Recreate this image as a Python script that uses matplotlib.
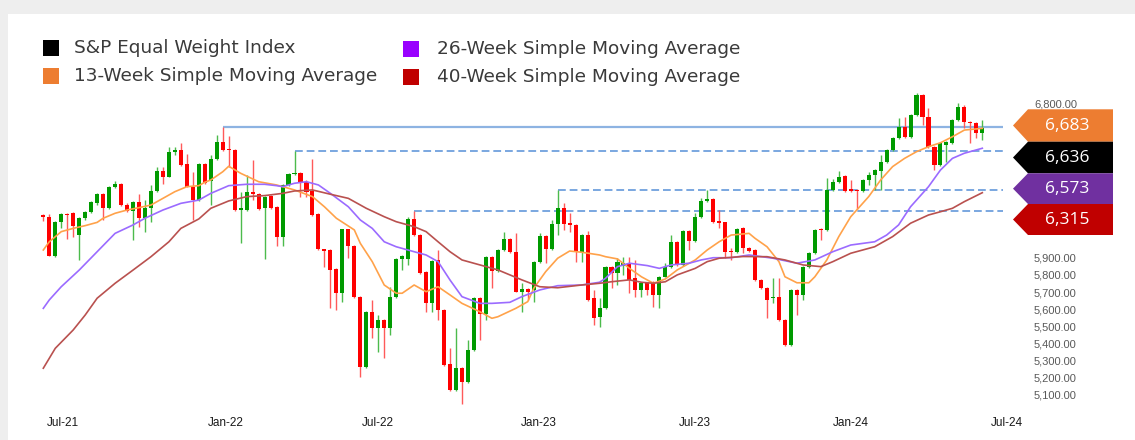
import matplotlib
matplotlib.use("Agg")
import matplotlib.pyplot as plt
from matplotlib.patches import Polygon, Rectangle
import numpy as np

# ---------------- data (weekly candles, week index 0..157) ----------------
opens = [6149, 6139, 5912, 6110, 6155, 6159, 6032, 6130, 6168, 6217,
         6271, 6188, 6314, 6328, 6207, 6172, 6223, 6130, 6188, 6289,
         6405, 6372, 6514, 6528, 6444, 6314, 6236, 6444, 6347, 6475,
         6576, 6534, 6528, 6178, 6178, 6285, 6271, 6188, 6260, 6194,
         6019, 6324, 6386, 6396, 6343, 6291, 6155, 5949, 5945, 5833,
         5693, 6066, 5968, 5673, 5265, 5585, 5492, 5537, 5492, 5673,
         5893, 5893, 6126, 6032, 5819, 5634, 5887, 5595, 5279, 5130,
         5259, 5174, 5362, 5664, 5570, 5906, 5823, 5945, 6009, 5935,
         5702, 5718, 5712, 5877, 6028, 5951, 6095, 6188, 6101, 6091,
         5935, 6032, 5664, 5556, 5605, 5848, 5809, 5854, 5868, 5784,
         5712, 5751, 5760, 5683, 5789, 5848, 5993, 5858, 6056, 5997,
         6139, 6231, 6242, 6114, 6106, 5939, 5935, 6073, 5957, 5945,
         5771, 5725, 5663, 5673, 5537, 5391, 5712, 5683, 5848, 5926,
         6066, 6062, 6295, 6343, 6378, 6300, 6295, 6289, 6353, 6382,
         6405, 6456, 6528, 6596, 6664, 6605, 6732, 6848, 6722, 6547,
         6440, 6557, 6567, 6703, 6780, 6693, 6683, 6625]
highs = [6153, 6153, 6115, 6159, 6160, 6168, 6135, 6175, 6228, 6279,
         6276, 6318, 6347, 6333, 6217, 6231, 6270, 6236, 6324, 6431,
         6431, 6547, 6547, 6567, 6503, 6401, 6450, 6450, 6499, 6615,
         6664, 6611, 6535, 6285, 6382, 6470, 6276, 6258, 6265, 6200,
         6330, 6392, 6520, 6400, 6353, 6474, 6160, 5952, 5950, 5838,
         6070, 6070, 5972, 5678, 5590, 5654, 5566, 5542, 5731, 5898,
         5916, 6139, 6175, 6037, 5824, 5886, 5945, 5600, 5372, 5489,
         5265, 5420, 5670, 5670, 5912, 5912, 5950, 6052, 6015, 6042,
         5751, 5722, 5882, 6042, 6032, 6120, 6292, 6217, 6159, 6096,
         6037, 6056, 5712, 5664, 5853, 5853, 5897, 5906, 5906, 5887,
         5760, 5760, 5765, 5795, 5868, 6032, 5998, 6062, 6062, 6159,
         6246, 6295, 6248, 6178, 6110, 5955, 6075, 6078, 5962, 5950,
         5776, 5730, 5782, 5780, 5542, 5718, 5718, 5853, 5931, 6067,
         6072, 6363, 6359, 6405, 6384, 6353, 6300, 6358, 6401, 6416,
         6499, 6535, 6605, 6713, 6722, 6738, 6860, 6855, 6771, 6553,
         6572, 6582, 6708, 6802, 6790, 6698, 6690, 6703]
lows = [6114, 5910, 5905, 6072, 6009, 6023, 5887, 6120, 6163, 6207,
        6120, 6183, 6306, 6203, 6167, 6003, 6081, 6052, 6110, 6285,
        6328, 6368, 6499, 6437, 6310, 6120, 6230, 6330, 6207, 6470,
        6524, 6431, 6170, 5984, 6172, 6236, 6176, 5891, 6185, 5968,
        5968, 6320, 6380, 6256, 6256, 6145, 5945, 5848, 5605, 5595,
        5644, 5897, 5668, 5207, 5260, 5430, 5352, 5314, 5450, 5665,
        5829, 5858, 6028, 5805, 5585, 5585, 5537, 5270, 5125, 5125,
        5046, 5168, 5356, 5420, 5537, 5722, 5818, 5940, 5930, 5698,
        5585, 5654, 5644, 5872, 5868, 5946, 6032, 6062, 6052, 5877,
        5877, 5650, 5508, 5498, 5600, 5722, 5741, 5800, 5693, 5673,
        5673, 5680, 5615, 5605, 5785, 5843, 5853, 5853, 5945, 5992,
        6134, 6223, 6105, 6072, 5897, 5887, 5930, 5926, 5935, 5766,
        5717, 5547, 5636, 5532, 5386, 5386, 5566, 5654, 5843, 5921,
        6003, 6057, 6290, 6338, 6285, 6285, 6184, 6284, 6324, 6295,
        6295, 6450, 6522, 6590, 6600, 6600, 6727, 6674, 6542, 6411,
        6435, 6460, 6562, 6698, 6654, 6567, 6596, 6586]
closes = [6139, 5912, 6110, 6155, 6149, 6085, 6132, 6168, 6223, 6271,
          6188, 6314, 6328, 6207, 6172, 6223, 6130, 6188, 6289, 6405,
          6372, 6518, 6528, 6440, 6314, 6236, 6444, 6334, 6475, 6576,
          6528, 6528, 6178, 6190, 6285, 6271, 6182, 6252, 6190, 6019,
          6324, 6386, 6396, 6334, 6285, 6149, 5949, 5941, 5829, 5693,
          6066, 5968, 5673, 5265, 5585, 5492, 5537, 5492, 5673, 5893,
          5912, 6126, 6032, 5809, 5634, 5881, 5595, 5275, 5130, 5259,
          5174, 5362, 5664, 5570, 5906, 5823, 5945, 6009, 5935, 5702,
          5718, 5702, 5877, 6028, 5951, 6095, 6188, 6095, 6091, 5935,
          6032, 5654, 5547, 5605, 5848, 5809, 5877, 5868, 5771, 5712,
          5751, 5712, 5683, 5789, 5848, 5993, 5858, 6056, 5997, 6139,
          6231, 6242, 6110, 6101, 5935, 5932, 6070, 5957, 5940, 5771,
          5722, 5654, 5673, 5537, 5391, 5712, 5683, 5848, 5926, 6062,
          6062, 6295, 6343, 6372, 6289, 6289, 6289, 6353, 6382, 6411,
          6456, 6528, 6596, 6664, 6605, 6732, 6848, 6722, 6547, 6440,
          6567, 6576, 6703, 6780, 6693, 6683, 6625, 6654]

# moving averages, read at sampled week indices
ma13_weeks = [0, 1, 3, 5, 7, 9, 10, 12, 14, 16, 18, 20, 22, 24, 26, 27, 28, 30, 31, 33,
              36, 39, 42, 45, 47, 49, 52, 53, 55, 57, 59, 60, 62, 64, 66, 68, 70, 73, 75, 76,
              79, 81, 82, 84, 86, 88, 90, 93, 94, 96, 98, 100, 102, 104, 106, 109, 111, 113,
              115, 118, 119, 121, 123, 124, 126, 128, 129, 131, 133, 135, 138, 140, 142, 144,
              146, 148, 150, 152, 154, 157]
ma13_vals = [5945, 5993, 6052, 6071, 6087, 6106, 6130, 6159, 6178, 6192, 6207, 6246, 6285,
             6314, 6320, 6340, 6353, 6401, 6433, 6392, 6343, 6324, 6295, 6256, 6197, 6130,
             6062, 5984, 5877, 5741, 5693, 5693, 5741, 5702, 5731, 5683, 5634, 5585, 5547,
             5556, 5605, 5644, 5722, 5819, 5897, 5939, 5932, 5916, 5906, 5893, 5838, 5789,
             5751, 5776, 5829, 5887, 5945, 5993, 6032, 6042, 6013, 5964, 5877, 5789, 5754,
             5754, 5789, 5887, 6023, 6139, 6256, 6353, 6431, 6479, 6518, 6547, 6570, 6605,
             6644, 6654]
ma26_weeks = [0, 1, 3, 6, 9, 12, 15, 17, 20, 23, 26, 28, 31, 34, 37, 39, 40, 42, 44, 46,
              48, 51, 53, 55, 57, 59, 62, 64, 66, 68, 70, 73, 75, 78, 80, 83, 86, 90, 93, 94,
              96, 98, 101, 103, 105, 108, 110, 112, 115, 118, 122, 126, 129, 132, 135, 139,
              141, 143, 145, 148, 150, 152, 154, 157]
ma26_vals = [5605, 5654, 5731, 5828, 5935, 6042, 6091, 6130, 6178, 6217, 6236, 6275, 6320,
             6328, 6328, 6320, 6314, 6334, 6343, 6324, 6275, 6197, 6120, 6071, 5993, 5964,
             5935, 5916, 5877, 5770, 5673, 5634, 5634, 5640, 5673, 5712, 5737, 5741, 5757,
             5780, 5848, 5868, 5854, 5838, 5858, 5868, 5887, 5900, 5900, 5916, 5897, 5868,
             5887, 5935, 5974, 5993, 6032, 6091, 6197, 6314, 6411, 6479, 6509, 6538]
ma40_weeks = [0, 2, 5, 7, 9, 12, 15, 18, 21, 23, 26, 28, 31, 34, 37, 40, 42, 45, 48, 51,
              54, 57, 59, 62, 64, 66, 68, 70, 73, 76, 78, 80, 83, 86, 90, 93, 95, 98, 100,
              102, 104, 106, 109, 111, 113, 117, 121, 124, 127, 130, 132, 135, 139, 142, 145,
              148, 150, 152, 154, 157]
ma40_vals = [5256, 5372, 5479, 5566, 5664, 5751, 5828, 5906, 5993, 6071, 6126, 6188, 6231,
             6256, 6262, 6275, 6289, 6295, 6270, 6246, 6188, 6139, 6110, 6081, 6052, 5993,
             5935, 5887, 5858, 5829, 5800, 5771, 5731, 5725, 5741, 5751, 5760, 5771, 5757,
             5751, 5760, 5800, 5838, 5877, 5897, 5907, 5906, 5887, 5858, 5848, 5877, 5926,
             5964, 6023, 6101, 6149, 6168, 6188, 6227, 6279]

# resistance levels: drawn from the high of these weeks
level_weeks = [30, 42, 86, 62]
level_styles = ["solid", "dashed", "dashed", "dashed"]

x_tick_pos = [3.2, 30.5, 55.9, 82.8, 109.0, 135.1, 161.1]
x_tick_labels = ["Jul-21", "Jan-22", "Jul-22", "Jan-23", "Jul-23", "Jan-24", "Jul-24"]
y_ticks = [5100, 5200, 5300, 5400, 5500, 5600, 5700, 5800, 5900, 6800]

legend_labels = ["S&P Equal Weight Index", "13-Week Simple Moving Average",
                 "26-Week Simple Moving Average", "40-Week Simple Moving Average"]
legend_colors = ["#000000", "#ED7D31", "#9900FF", "#C00000"]

tag_values = [6683, 6636, 6573, 6315]
tag_colors = ["#ED7D31", "#000000", "#7030A0", "#C00000"]

# ---------------- figure ----------------
W, H = 1135, 440
fig = plt.figure(figsize=(W / 100, H / 100), dpi=100)
fig.patch.set_facecolor("white")

# light grey frame (top and left)
fig.patches.append(Rectangle((0, 1 - 14 / H), 1, 14 / H, transform=fig.transFigure,
                             facecolor="#EEEEEE", edgecolor="none", zorder=0))
fig.patches.append(Rectangle((0, 0), 8 / W, 1, transform=fig.transFigure,
                             facecolor="#EEEEEE", edgecolor="none", zorder=0))

ax = fig.add_axes([35 / W, 1 - 410 / H, (1020 - 35) / W, 320 / H])
ax.set_xlim(-1.39, 163.3)
ax.set_ylim(5012.5, 6877.5)
for s in ax.spines.values():
    s.set_visible(False)

o = np.array(opens, float)
h = np.array(highs, float)
l = np.array(lows, float)
c = np.array(closes, float)
x = np.arange(len(o))
up = c >= o
GREEN, RED = "#009A00", "#FF0000"
cols = np.where(up, GREEN, RED)
wick_cols = np.where(up, "#4CBB4C", "#FF5A5A")

ax.vlines(x, l, h, colors=wick_cols, linewidth=1.0, zorder=2)
body_bottom = np.minimum(o, c)
body_h = np.maximum(np.abs(c - o), 5)
ax.bar(x, body_h, bottom=body_bottom, width=0.68, color=cols, linewidth=0, zorder=3)

ax.plot(ma13_weeks, ma13_vals, color="#FFA24A", lw=1.2, zorder=4)
ax.plot(ma26_weeks, ma26_vals, color="#9B6BFF", lw=1.2, zorder=4)
ax.plot(ma40_weeks, ma40_vals, color="#B9514F", lw=1.2, zorder=4)

x_end = 160.5
for wk, st in zip(level_weeks, level_styles):
    lv = highs[wk]
    if st == "solid":
        ax.hlines(lv, wk, x_end, colors="#8DB3E2", linewidth=1.6, zorder=1)
    else:
        ax.hlines(lv, wk, x_end, colors="#7AA7E0", linewidth=1.4, linestyles=(0, (4, 2)), zorder=1)

ax.set_xticks(x_tick_pos)
ax.set_xticklabels(x_tick_labels, fontsize=8.5, color="#1A1A1A", fontfamily="Liberation Sans")
ax.tick_params(axis="x", length=0, pad=5)
ax.yaxis.tick_right()
ax.set_yticks(y_ticks)
ax.set_yticklabels([f"{v:,.2f}" for v in y_ticks], fontsize=8, color="#595959",
                   fontfamily="Liberation Sans")
ax.tick_params(axis="y", length=0, pad=10)

# ---------------- legend ----------------
leg_pos = [(43, 48, 74), (43, 76, 74), (403, 49, 437), (403, 77, 437)]
for (sx, sy, tx), lab, col in zip(leg_pos, legend_labels, legend_colors):
    fig.patches.append(Rectangle((sx / W, 1 - (sy + 8) / H), 16 / W, 16 / H,
                                 transform=fig.transFigure, facecolor=col,
                                 edgecolor="none"))
    fig.text(tx / W, 1 - sy / H, lab, fontsize=13.3, color="#3A3A3A",
             family="DejaVu Sans", va="center", ha="left")

# ---------------- value tags ----------------
tag_bounds = [(109.3, 141.7), (141.7, 173.3), (173.3, 204.0), (204.0, 235.0)]
for (t, b), val, col in zip(tag_bounds, tag_values, tag_colors):
    mid = (t + b) / 2
    pts = [(1013, mid), (1028, t), (1113, t), (1113, b), (1028, b)]
    poly = Polygon([(px / W, 1 - py / H) for px, py in pts], closed=True,
                   transform=fig.transFigure, facecolor=col, edgecolor="none")
    fig.patches.append(poly)
    fig.text(1067 / W, 1 - mid / H, f"{val:,}", color="white", fontsize=12.5,
             family="Open Sans", ha="center", va="center")

fig.savefig("out.png", dpi=100, facecolor=fig.get_facecolor())
